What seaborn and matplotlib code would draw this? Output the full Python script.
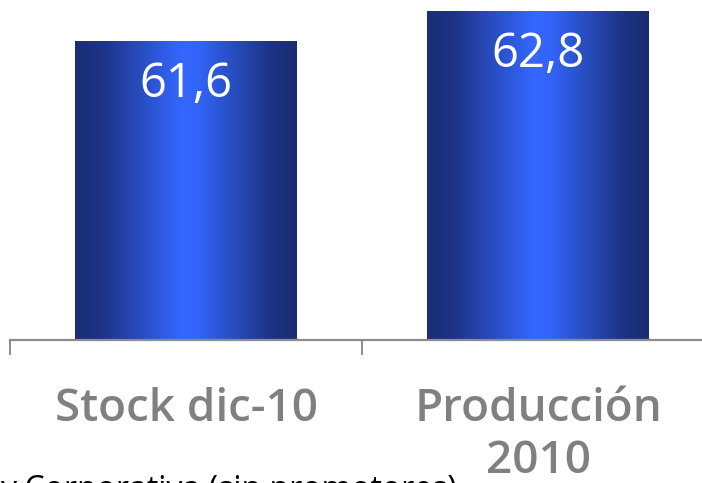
import numpy as np
import pandas as pd
import matplotlib
matplotlib.use("Agg")
import matplotlib.pyplot as plt
from matplotlib.colors import LinearSegmentedColormap
import seaborn as sns

# chart data
categories = ["Stock dic-10", "Producción\n2010"]
values = [61.6, 62.8]
value_labels = ["61,6", "62,8"]
footer_text = "y Corporativa (sin promotores)"

y_bottom = 49.64
y_top = 63.24

sns.set_style("white")
plt.rcParams["font.family"] = ["Open Sans", "DejaVu Sans"]

df = pd.DataFrame({"cat": categories, "val": values})

fig = plt.figure(figsize=(7.02, 4.83), dpi=100)
ax = fig.add_axes([10 / 702, (483 - 340) / 483, 704.5 / 702, 340 / 483])

sns.barplot(data=df, x="cat", y="val", width=0.63, color="#2a4fd0", ax=ax)

# horizontal gradient: dark edges, bright middle
grad_cmap = LinearSegmentedColormap.from_list(
    "bar_grad",
    [(0.0, "#1a2e74"), (0.12, "#1d3484"), (0.48, "#3467ff"),
     (0.56, "#3264f8"), (0.88, "#1d3484"), (1.0, "#1a2d70")])
grad = np.linspace(0, 1, 256).reshape(1, -1)

for patch in ax.patches:
    x0 = patch.get_x()
    w = patch.get_width()
    h = patch.get_height()
    patch.set_facecolor("none")
    patch.set_edgecolor("none")
    im = ax.imshow(grad, extent=[x0, x0 + w, y_bottom, h], aspect="auto",
                   cmap=grad_cmap, zorder=2, interpolation="bilinear")
    im.set_clip_path(patch)

for i, (v, lab) in enumerate(zip(values, value_labels)):
    ax.annotate(lab, xy=(i, v), xytext=(0, -14), textcoords="offset points",
                ha="center", va="top", color="white", fontsize=34, zorder=3)

ax.set_xlim(-0.5, 1.5)
ax.set_ylim(y_bottom, y_top)
ax.set_xlabel("")
ax.set_ylabel("")
ax.set_yticks([])

for s in ["top", "right", "left"]:
    ax.spines[s].set_visible(False)
ax.spines["bottom"].set_color("#8c8c8c")
ax.spines["bottom"].set_linewidth(1.6)

ax.set_xticks([0, 1])
ax.set_xticklabels(categories, color="#808080", fontsize=33,
                   fontweight="semibold", linespacing=1.2)
ax.tick_params(axis="x", which="major", length=0, pad=34)
ax.set_xticks([-0.5, 0.5, 1.5], minor=True)
ax.tick_params(axis="x", which="minor", length=11, width=1.4,
               color="#8c8c8c", direction="out", bottom=True)

fig.text(457 / 702, -16 / 483, footer_text, ha="right", va="baseline",
         fontsize=23, color="#000000")

fig.savefig("out.png", dpi=100)
